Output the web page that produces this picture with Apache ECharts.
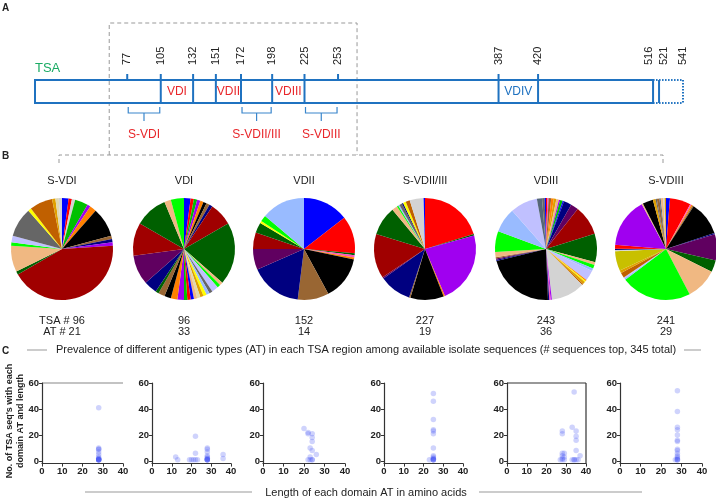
<!DOCTYPE html>
<html><head><meta charset="utf-8">
<script src="https://cdn.jsdelivr.net/npm/echarts@6/dist/echarts.min.js"></script>
<style>html,body{margin:0;padding:0;background:#fff}#c{width:716px;height:499px}</style>
</head><body><div id="c"></div>
<script>
// ---------- DATA ----------
// Panel A: TSA residue boundaries
const tsaBoundaries = [77,105,132,151,172,198,225,253,387,420,516,521,541];
const tsaStart = 0, tsaMain = 516, tsaSplice = 521, tsaEnd = 541;
const domainNames = ['VDI','VDII','VDIII','VDIV'];
const domainStarts = [105,151,198,387];
const domainEnds = [132,172,225,420];
const subNames = ['S-VDI','S-VDII/III','S-VDIII'];
const subStarts = [77,172,225];
const subEnds = [105,198,253];

// Panel B: pies
const regionNames = ['S-VDI','VDI','VDII','S-VDII/III','VDIII','S-VDIII'];
const tsaCounts = [96,96,152,227,243,241];
const atCounts = [21,33,14,19,36,29];
const pieSVDI = [2,1,1,4,1,2,9,1,1,1,41,1,8,1,2,9,1,7,1,1,1];
const pieVDI = [2,1,1,1,1,1,1,1,7,19,1,1,2,1,1,1,1,1,1,1,1,1,2,2,2,2,1,4,9,10,10,2,4];
const pieVDII = [22,18,1,1,1,21,15,25,10,8,5,1,3,21];
const pieSVDII_III = [46,1,52,1,24,1,23,1,32,21,4,1,1,2,1,2,3,10,1];
const pieVDIII = [1,1,2,2,2,2,1,2,1,6,6,23,22,2,3,2,8,1,1,2,1,26,1,1,1,53,1,1,1,4,16,19,21,4,2,1];
const pieSVDIII = [3,16,1,1,1,26,1,20,9,24,54,1,1,4,2,15,1,1,3,38,1,8,2,1,2,1,2,1,1];

// Panel C: scatter [length, count]
const scSVDI = [[28,41],[28,10],[28,9],[28,9],[28,7],[28,5],[28,3],[28,2],[28,2],[28,1],[28,1],[28,1],[28,1],[28,1],[28,1],[28,1]];
const scVDI = [[12,3],[13,1],[19,1],[20,1],[21,1],[22,1],[22,19],[22,6],[23,1],[28,10],[28,9],[28,7],[28,4],[28,3],[28,2],[28,2],[28,1],[28,1],[28,1],[28,1],[28,1],[36,5],[36,2]];
const scVDII = [[20,25],[22,22],[22,21],[24,21],[24,18],[24,15],[23,10],[24,8],[26,5],[23,3],[22,1],[23,1],[24,1],[24,1]];
const scSVDII_III = [[25,52],[25,46],[25,32],[25,24],[25,23],[25,21],[25,10],[25,4],[25,3],[25,2],[25,2],[25,1],[25,1],[25,1],[25,1],[23,1]];
const scVDIII = [[34,53],[33,26],[35,23],[28,23],[28,21],[35,19],[35,16],[35,8],[37,4],[28,6],[29,6],[28,4],[29,3],[28,2],[27,1],[28,1],[29,1],[33,1],[34,1],[35,1],[34,1],[36,1]];
const scSVDIII = [[28,54],[28,38],[28,26],[28,24],[28,20],[28,16],[28,15],[28,9],[28,8],[28,6],[28,4],[28,3],[28,2],[28,1],[28,1],[28,1],[27,1]];
const yTicks = [0,20,40,60];

// ---------- STYLES ----------
const K = {bl:'#0000ff',rd:'#ff0000',gr:'#00c000',lm:'#00ff00',pu:'#a000f0',or:'#ff8000',bk:'#000000',br:'#996633',
  nv:'#000080',dr:'#a00000',dg:'#006000',tn:'#f0b882',lv:'#c0c0ff',gy:'#666666',ye:'#ffff00',ch:'#c06000',
  be:'#e0d8b0',lg:'#d3d3d3',lb:'#99bbff',dp:'#600060',ol:'#c8c000',pk:'#ff50c0',gd:'#e0a000',sl:'#556677'};
const colSVDI = 'bl rd lg gr pu or bk br nv pu dr dg tn lm lv gy ye ch gd be lg'.split(' ');
const colVDI = 'bl rd gr pu or bk br nv dr dg tn lm lv gy lb ye gd be tn bl rd gr pu or bk br dg nv dp dr dg tn lm'.split(' ');
const colVDII = 'bl rd dg pk or bk br nv dp dr dg ye lm lb'.split(' ');
const colSVDII_III = 'rd dg pu or bk br nv dp dr dg tn lm lb gy nv ye ch lg bl'.split(' ');
const colVDIII = 'rd pk br or gd tn pu gr bl nv dp dr dg tn lm lb lv or ye gd ch lg pu pk nv bk nv dp br tn lm lb lv sl gy bl'.split(' ');
const colSVDIII = 'bl rd pk or br bk nv dp dg tn lm lb lv ch gd ol lg nv rd pu tn bk gd gy br sl tn lg gd'.split(' ');

const FONT = '"Liberation Sans", Arial, sans-serif';
const blueLine = '#1f72c0';
const redText = '#e8262a';
const domainColors = [redText, redText, redText, blueLine];
const pieCenters = [62,184,304,425,546,666];
const pieCY = 249, pieR = 51;
const gridLefts = [42,152,263,384,507,620];
const gridWidths = [81,79,82,79,79,82];
const gTop = 383, gHeight = 80.6;

const pieData = [pieSVDI,pieVDI,pieVDII,pieSVDII_III,pieVDIII,pieSVDIII];
const pieCols = [colSVDI,colVDI,colVDII,colSVDII_III,colVDIII,colSVDIII];
const scData = [scSVDI,scVDI,scVDII,scSVDII_III,scVDIII,scSVDIII];

const chart = echarts.init(document.getElementById('c'), null, {renderer:'canvas'});
const domainEdges = new Set([...domainStarts, ...domainEnds]);

// spread label centres so that neighbours stay at least `gap` px apart
function spread(xs, gap) {
  let groups = xs.map((x, i) => ({idx: [i], c: x}));
  let merged = true;
  while (merged) {
    merged = false;
    for (let k = 0; k < groups.length - 1; k++) {
      const a = groups[k], b = groups[k + 1];
      const aEnd = a.c + (a.idx.length - 1) * gap / 2;
      const bStart = b.c - (b.idx.length - 1) * gap / 2;
      if (bStart - aEnd < gap) {
        const idx = a.idx.concat(b.idx);
        const c = idx.reduce((s, i) => s + xs[i], 0) / idx.length;
        groups.splice(k, 2, {idx, c}); merged = true; break;
      }
    }
  }
  const out = [];
  groups.forEach(g => g.idx.forEach((i, j) => { out[i] = g.c + (j - (g.idx.length - 1) / 2) * gap; }));
  return out;
}

function renderBox(params, api) {
  const s = api.coord([api.value(0), 1]);
  const m = api.coord([api.value(1), 0]);
  const p = api.coord([api.value(2), 0])[0];
  const e = api.coord([api.value(3), 0])[0];
  const top = s[1], bot = m[1], left = s[0], right = m[0];
  const st = {stroke: blueLine, lineWidth: 2, fill: null};
  const dot = {stroke: blueLine, lineWidth: 2, lineDash: [1.5,1.5], fill: null};
  return {type:'group', children:[
    {type:'rect', shape:{x:left,y:top,width:right-left,height:bot-top}, style: st},
    {type:'line', shape:{x1:right,y1:top,x2:e,y2:top}, style: dot},
    {type:'line', shape:{x1:right,y1:bot,x2:e,y2:bot}, style: dot},
    {type:'line', shape:{x1:p,y1:top,x2:p,y2:bot}, style: st},
    {type:'line', shape:{x1:e,y1:top,x2:e,y2:bot}, style: dot}
  ]};
}
function renderBoundary(params, api) {
  const v = api.value(0);
  const t = api.coord([v, 1]);
  const bot = api.coord([v, 0])[1];
  const x = t[0], top = t[1];
  const labelXs = spread(tsaBoundaries.map(b => api.coord([b, 1])[0]), 15);
  const ch = [{type:'text', x: labelXs[params.dataIndex], y: top - 15, rotation: Math.PI/2,
    style:{text:String(v), fill:'#222', font:'11px ' + FONT, align:'left', verticalAlign:'middle'}}];
  if (v < tsaMain) {
    const full = domainEdges.has(v);
    ch.push({type:'line', shape:{x1:x,y1:top-6,x2:x,y2: full ? bot : top}, style:{stroke:blueLine,lineWidth:2}});
  }
  return {type:'group', children: ch};
}
function renderDomain(params, api) {
  const a = api.coord([api.value(0), 1]);
  const b = api.coord([api.value(1), 0]);
  const i = params.dataIndex;
  return {type:'text', x:(a[0]+b[0])/2, y:(a[1]+b[1])/2,
    style:{text: domainNames[i], fill: domainColors[i], font:'12px ' + FONT, align:'center', verticalAlign:'middle'}};
}
function renderSub(params, api) {
  const a = api.coord([api.value(0), 0]);
  const b = api.coord([api.value(1), 0]);
  const y = a[1], x1 = a[0]+1, x2 = b[0]-1, mid = (a[0]+b[0])/2;
  const ls = {stroke:'#3a86cc', lineWidth:1.2, fill:null};
  return {type:'group', children:[
    {type:'polyline', shape:{points:[[x1,y+4],[x1,y+10],[x2,y+10],[x2,y+4]]}, style: ls},
    {type:'line', shape:{x1:mid,y1:y+10,x2:mid,y2:y+18}, style: ls},
    {type:'text', x: mid, y: y+32, style:{text: subNames[params.dataIndex], fill: redText, font:'12px ' + FONT, align:'center', verticalAlign:'middle'}}
  ]};
}
function renderFrame(params, api) {
  const a = api.coord([api.value(0), 1]);
  const b = api.coord([api.value(1), 0]);
  const l = a[0] - 18, r = b[0] + 19, top = a[1] - 57, bot = b[1] + 52;
  return {type:'polyline', shape:{points:[[l,bot],[l,top],[r,top],[r,bot]]}, style:{stroke:'#999', lineWidth:1, lineDash:[4,3], fill:null}};
}
function custom(data, render) {
  return {type:'custom', coordinateSystem:'cartesian2d', xAxisIndex:0, yAxisIndex:0, data, renderItem: render, silent:true, clip:false};
}

const grids = [{left:35, width:648, top:80, height:23, outerBoundsMode:'none'}];
const xAxes = [{gridIndex:0, type:'value', min:0, max:541, show:false}];
const yAxes = [{gridIndex:0, type:'value', min:0, max:1, show:false}];
const series = [
  custom([[subStarts[0], subEnds[subEnds.length-1]]], renderFrame),
  custom([[tsaStart, tsaMain, tsaSplice, tsaEnd]], renderBox),
  custom(tsaBoundaries.map(v => [v]), renderBoundary),
  custom(domainStarts.map((s,i) => [s, domainEnds[i]]), renderDomain),
  custom(subStarts.map((s,i) => [s, subEnds[i]]), renderSub)
];
const axisLab = {fontSize:9.5, fontWeight:'bold', color:'#222', fontFamily:FONT, margin:3};
const axLine = {show:true, lineStyle:{color:'#333', width:1.2}};
for (let i = 0; i < 6; i++) {
  grids.push({left: gridLefts[i], width: gridWidths[i], top: gTop, height: gHeight, outerBoundsMode:'none'});
  xAxes.push({gridIndex:i+1, type:'value', min:0, max:40, interval:10, axisLine:Object.assign({onZero:false}, axLine),
    axisTick:{show:true, length:3, lineStyle:{color:'#333'}}, axisLabel:axisLab, splitLine:{show:false}});
  yAxes.push({gridIndex:i+1, type:'value', min:-2, max:60, axisLine:axLine,
    axisTick:{show:true, length:3, customValues:yTicks, lineStyle:{color:'#333'}},
    axisLabel:Object.assign({customValues:yTicks}, axisLab), splitLine:{show:false}});
  series.push({type:'scatter', xAxisIndex:i+1, yAxisIndex:i+1, data: scData[i], symbolSize:5.5,
    itemStyle:{color:'rgba(70,85,245,0.32)'}, silent:true});
  series.push({type:'pie', center:[pieCenters[i], pieCY], radius:pieR, startAngle:90, clockwise:true,
    label:{show:false}, labelLine:{show:false}, silent:true, emphasis:{disabled:true},
    itemStyle:{borderWidth:0},
    data: pieData[i].map((v,j) => ({value:v, name:String(j), itemStyle:{color:K[pieCols[i][j]]}}))});
}

const graphic = [];
function txt(x, y, s, opt) {
  graphic.push({type:'text', x, y, silent:true,
    style: Object.assign({text:s, fill:'#222', font:'11px ' + FONT, align:'center', verticalAlign:'middle'}, opt || {})});
}
function gline(x1,y1,x2,y2,style) {
  graphic.push({type:'line', silent:true, shape:{x1,y1,x2,y2}, style:Object.assign({stroke:'#bbb', lineWidth:1.5}, style||{})});
}
txt(2, 8, 'A', {font:'bold 10px ' + FONT, align:'left'});
txt(2, 156, 'B', {font:'bold 10px ' + FONT, align:'left'});
txt(2, 351, 'C', {font:'bold 10px ' + FONT, align:'left'});
txt(35, 68, 'TSA', {font:'13px ' + FONT, align:'left', fill:'#1aab64'});
// panel B dashed guide
graphic.push({type:'polyline', silent:true, shape:{points:[[pieCenters[0]-3,163],[pieCenters[0]-3,155],[pieCenters[5]-3,155],[pieCenters[5]-3,163]]},
  style:{stroke:'#999', lineWidth:1, lineDash:[4,3], fill:null}});
for (let i = 0; i < 6; i++) {
  txt(pieCenters[i], 181, regionNames[i]);
  txt(pieCenters[i], 321, (i === 0 ? 'TSA # ' : '') + tsaCounts[i]);
  txt(pieCenters[i], 332, (i === 0 ? 'AT # ' : '') + atCounts[i]);
}
txt(366, 350, 'Prevalence of different antigenic types (AT) in each TSA region among available isolate sequences (# sequences top, 345 total)', {font:'11px ' + FONT});
gline(27, 350, 47, 350);
gline(684, 350, 701, 350);
txt(366, 493, 'Length of each domain AT in amino acids', {font:'11px ' + FONT});
gline(85, 492, 252, 492);
gline(479, 492, 642, 492);
graphic.push({type:'text', x:10, y:421, rotation:Math.PI/2, silent:true, style:{text:"No. of TSA seq's with each", fill:'#222', font:'bold 9px ' + FONT, align:'center', verticalAlign:'middle'}});
graphic.push({type:'text', x:21, y:421, rotation:Math.PI/2, silent:true, style:{text:'domain AT and length', fill:'#222', font:'bold 9px ' + FONT, align:'center', verticalAlign:'middle'}});
// frame pieces on plots 1 and 5
gline(gridLefts[0], gTop, gridLefts[0] + gridWidths[0], gTop, {stroke:'#888', lineWidth:1.2});
gline(gridLefts[4], gTop, gridLefts[4] + gridWidths[4], gTop, {stroke:'#333', lineWidth:1.2});
gline(gridLefts[4] + gridWidths[4], gTop, gridLefts[4] + gridWidths[4], gTop + gHeight, {stroke:'#333', lineWidth:1.2});

chart.setOption({animation:false, grid:grids, xAxis:xAxes, yAxis:yAxes, series, graphic});
</script></body></html>
